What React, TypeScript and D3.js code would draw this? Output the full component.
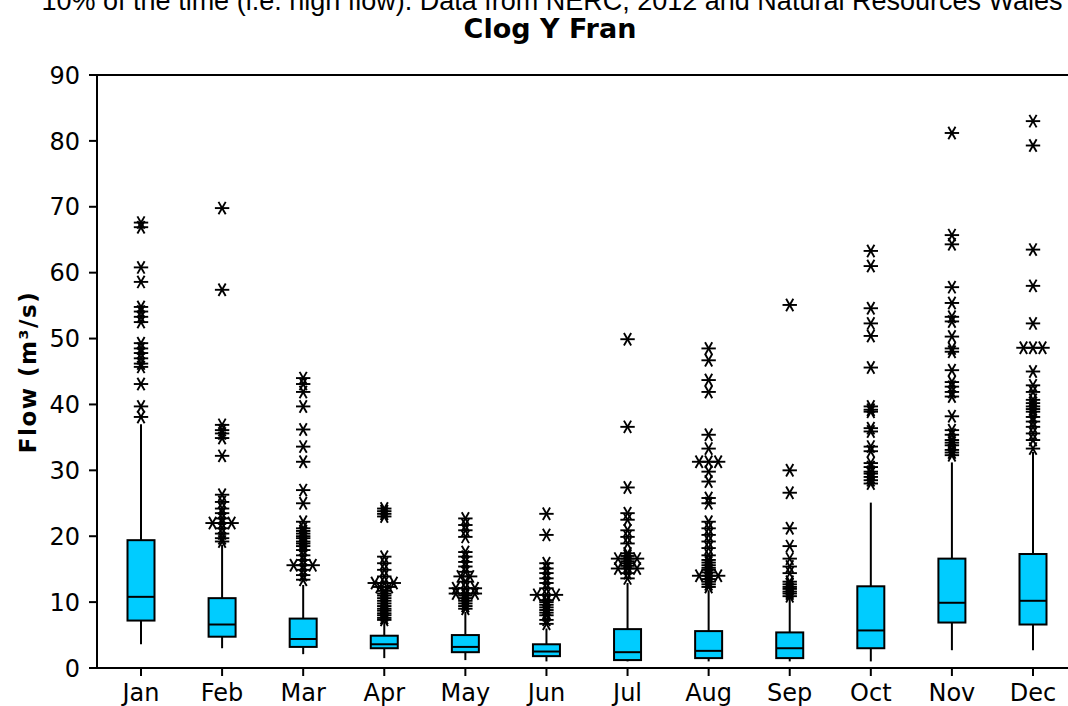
import React from "react";
import * as d3 from "d3";

const months = ["Jan", "Feb", "Mar", "Apr", "May", "Jun", "Jul", "Aug", "Sep", "Oct", "Nov", "Dec"];
const whiskerLow = [3.6, 3.0, 2.1, 1.5, 1.2, 1.0, 1.0, 1.0, 1.0, 1.0, 2.7, 2.7];
const q1 = [7.2, 4.75, 3.2, 3.0, 2.4, 1.8, 1.2, 1.5, 1.5, 3.0, 6.9, 6.6];
const median = [10.8, 6.6, 4.4, 3.6, 3.2, 2.5, 2.4, 2.6, 3.0, 5.7, 9.9, 10.2];
const q3 = [19.4, 10.6, 7.5, 4.9, 5.0, 3.6, 5.9, 5.6, 5.4, 12.4, 16.6, 17.3];
const whiskerHigh = [37.0, 18.7, 12.6, 7.0, 8.5, 6.0, 12.9, 11.8, 10.8, 25.1, 31.2, 32.8];

const outJan = [38.1, 39.7, 43.1, 45.7, 46.2, 47.0, 47.8, 48.5, 49.3, 52.5, 53.3, 54.1, 54.8, 58.6, 60.8, 66.9, 67.6];
const outFeb = [19.2, 19.7, 20.4, 21.2, 22.0, 22.0, 22.0, 22.7, 23.5, 24.2, 25.2, 26.3, 32.2, 34.9, 35.6, 36.1, 36.9, 57.4, 69.8];
const outMar = [13.4, 14.1, 14.9, 15.6, 15.6, 15.6, 16.4, 17.1, 17.9, 18.5, 18.9, 19.2, 19.7, 20.0, 20.4, 20.8, 21.2, 22.2, 25.0, 27.0, 31.3, 33.6, 36.2, 39.7, 41.9, 43.1, 44.0];
const outApr = [7.3, 7.6, 8.0, 8.3, 8.7, 9.0, 9.4, 9.8, 10.2, 10.6, 11.0, 11.3, 11.7, 12.3, 12.3, 12.9, 12.9, 12.9, 13.9, 14.9, 15.9, 16.9, 23.0, 23.4, 23.8, 24.2];
const outMay = [9.0, 9.4, 9.8, 10.2, 10.6, 11.0, 11.3, 11.3, 11.3, 12.1, 12.1, 12.1, 13.1, 13.9, 13.9, 14.6, 15.4, 16.1, 16.9, 17.6, 19.9, 20.9, 21.7, 22.7];
const outJun = [6.7, 7.3, 8.0, 8.4, 8.8, 9.2, 9.6, 10.0, 10.3, 11.1, 11.1, 11.1, 12.1, 12.9, 13.6, 14.4, 15.1, 15.9, 20.2, 23.4];
const outJul = [13.6, 14.4, 15.1, 15.1, 15.1, 15.5, 15.9, 16.2, 16.6, 16.6, 16.6, 17.0, 17.4, 18.9, 19.9, 20.9, 22.5, 23.5, 27.4, 36.6, 49.9];
const outAug = [12.3, 12.7, 13.1, 13.5, 14.0, 14.0, 14.0, 14.5, 14.9, 15.2, 15.6, 16.0, 16.4, 17.1, 18.2, 19.2, 20.2, 21.2, 22.2, 25.0, 25.8, 28.3, 29.8, 31.3, 31.3, 31.3, 33.3, 35.4, 41.9, 43.7, 46.7, 48.5];
const outSep = [10.9, 11.3, 11.6, 12.0, 12.3, 12.7, 13.1, 14.4, 15.4, 16.6, 18.5, 21.2, 26.6, 30.0, 55.1];
const outOct = [28.0, 28.5, 29.0, 29.5, 29.8, 30.5, 31.1, 32.9, 33.6, 35.9, 36.4, 38.9, 39.2, 39.7, 45.6, 50.4, 52.3, 54.6, 61.0, 63.3];
const outNov = [32.3, 32.7, 33.1, 33.8, 34.2, 34.6, 35.4, 36.1, 38.2, 41.2, 41.9, 42.7, 43.4, 45.2, 48.0, 48.5, 50.3, 52.6, 53.3, 55.4, 57.8, 64.3, 65.7, 81.2];
const outDec = [33.3, 34.6, 35.6, 36.6, 37.4, 38.1, 38.9, 39.3, 39.7, 40.2, 40.7, 41.9, 42.9, 45.0, 48.6, 48.6, 48.6, 52.3, 58.0, 63.5, 79.3, 83.0];
const outliers = [outJan, outFeb, outMar, outApr, outMay, outJun, outJul, outAug, outSep, outOct, outNov, outDec];

const yTicks = [0, 10, 20, 30, 40, 50, 60, 70, 80, 90];

const caption = "10% of the time (i.e. high flow).  Data from NERC, 2012 and Natural Resources Wales";
const title = "Clog Y Fran";
const yLabel = "Flow (m³/s)";

const W = 1068;
const H = 706;
const left = 97;
const top = 75;
const bottom = 668;
const tickFont = "'DejaVu Sans', sans-serif";

function Star({ cx, cy }: { cx: number; cy: number }) {
  const r = 7.2;
  const angles = [0, 60, 120];
  return (
    <g>
      {angles.map((a) => {
        const rad = (a * Math.PI) / 180;
        const dx = r * Math.cos(rad);
        const dy = r * Math.sin(rad);
        return <line key={a} x1={cx - dx} y1={cy - dy} x2={cx + dx} y2={cy + dy} stroke="#000" strokeWidth={1.9} />;
      })}
    </g>
  );
}

export default function App() {
  const x = d3.scalePoint<string>().domain(months).range([141, 1033]);
  const y = d3.scaleLinear().domain([0, 90]).range([bottom, top]);
  const boxW = 27;
  const step = 9.5;

  return (
    <svg width={W} height={H} style={{ position: "absolute", left: 0, top: 0, background: "#fff" }}>
      <rect x={0} y={0} width={W} height={H} fill="#fff" />
      <text x={552} y={10} textAnchor="middle" fontFamily="'Liberation Sans', Arial, sans-serif" fontSize={27} fill="#000">
        {caption}
      </text>
      <text x={550} y={38} textAnchor="middle" fontFamily={tickFont} fontWeight="bold" fontSize={27} fill="#000">
        {title}
      </text>

      {/* frame */}
      <line x1={left} y1={top} x2={W + 5} y2={top} stroke="#000" strokeWidth={2} />
      <line x1={left} y1={top} x2={left} y2={bottom} stroke="#000" strokeWidth={2} />
      <line x1={left} y1={bottom} x2={W + 5} y2={bottom} stroke="#000" strokeWidth={2} />

      {/* y ticks */}
      {yTicks.map((t) => (
        <g key={t}>
          <line x1={left - 8} x2={left} y1={y(t)} y2={y(t)} stroke="#000" strokeWidth={2} />
          <text x={80} y={y(t)} dy="0.36em" textAnchor="end" fontFamily={tickFont} fontSize={24} fill="#000">
            {t}
          </text>
        </g>
      ))}

      {/* x ticks */}
      {months.map((m) => (
        <g key={m}>
          <line x1={x(m)!} x2={x(m)!} y1={bottom} y2={bottom + 8} stroke="#000" strokeWidth={2} />
          <text x={x(m)!} y={701} textAnchor="middle" fontFamily={tickFont} fontSize={24} fill="#000">
            {m}
          </text>
        </g>
      ))}

      <text
        transform={`translate(36, 372) rotate(-90)`}
        textAnchor="middle"
        fontFamily={tickFont}
        fontWeight="bold"
        fontSize={23}
        letterSpacing={1.5}
        fill="#000"
      >
        {yLabel}
      </text>

      {/* boxes */}
      {months.map((m, i) => {
        const cx = x(m)!;
        const counts = new Map<number, number>();
        outliers[i].forEach((v) => counts.set(v, (counts.get(v) || 0) + 1));
        const seen = new Map<number, number>();
        return (
          <g key={m}>
            <line x1={cx} x2={cx} y1={y(q3[i])} y2={y(whiskerHigh[i])} stroke="#000" strokeWidth={2} />
            <line x1={cx} x2={cx} y1={y(q1[i])} y2={y(whiskerLow[i])} stroke="#000" strokeWidth={2} />
            <rect
              x={cx - boxW / 2}
              y={y(q3[i])}
              width={boxW}
              height={y(q1[i]) - y(q3[i])}
              fill="#00CCFF"
              stroke="#000"
              strokeWidth={2}
            />
            <line x1={cx - boxW / 2} x2={cx + boxW / 2} y1={y(median[i])} y2={y(median[i])} stroke="#000" strokeWidth={2} />
            {outliers[i].map((v, k) => {
              const n = counts.get(v) || 1;
              const j = seen.get(v) || 0;
              seen.set(v, j + 1);
              const off = (j - (n - 1) / 2) * step;
              return <Star key={k} cx={cx + off} cy={y(v)} />;
            })}
          </g>
        );
      })}
    </svg>
  );
}
